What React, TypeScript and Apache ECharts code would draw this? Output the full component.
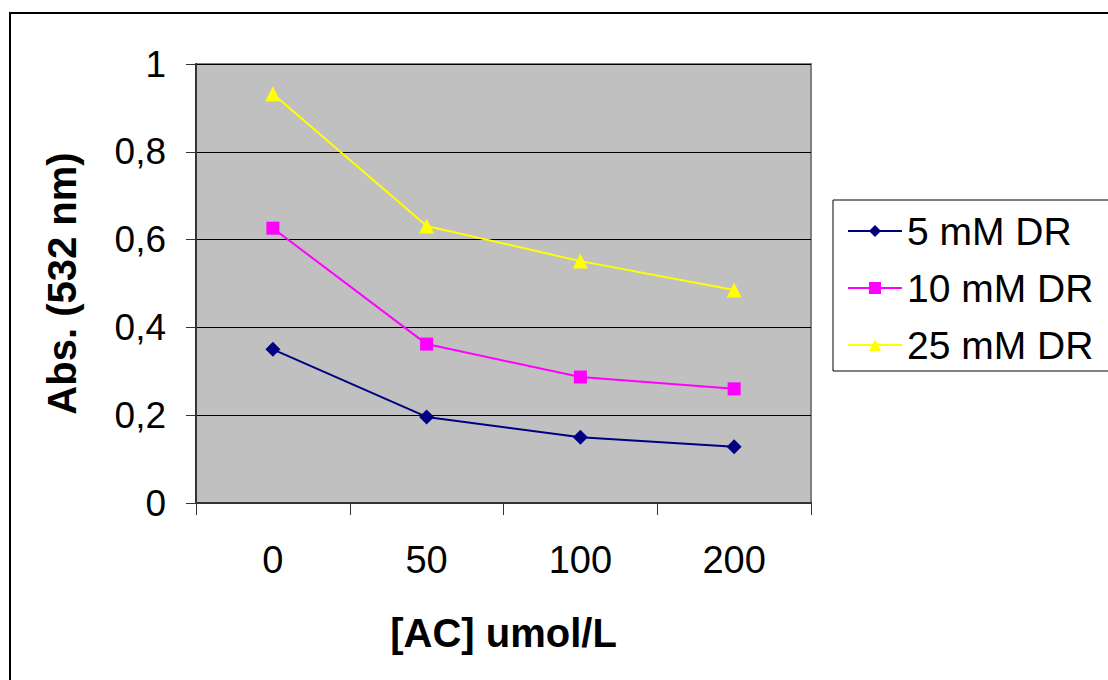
import React, { useEffect, useRef } from "react";
import * as echarts from "echarts";

const categories = ["0", "50", "100", "200"];
const seriesNames = ["5 mM DR", "10 mM DR", "25 mM DR"];
const dr5 = [0.35, 0.196, 0.15, 0.128];
const dr10 = [0.626, 0.362, 0.287, 0.26];
const dr25 = [0.932, 0.631, 0.551, 0.485];
const xTitle = "[AC] umol/L";
const yTitle = "Abs. (532 nm)";

export default function App() {
  const ref = useRef<HTMLDivElement>(null);
  useEffect(() => {
    document.body.style.margin = "0";
    const chart = echarts.init(ref.current!, null, { renderer: "svg" });
    const font = "Arial, 'Liberation Sans', Helvetica, sans-serif";
    const mk = (name: string, data: number[], color: string, symbol: string, size: number) => ({
      name,
      type: "line",
      data,
      symbol,
      symbolSize: size,
      showSymbol: true,
      lineStyle: { color, width: 2 },
      itemStyle: { color, borderWidth: 0 },
      z: 5,
    });
    chart.setOption({
      animation: false,
      backgroundColor: "#ffffff",
      textStyle: { fontFamily: font },
      graphic: [
        {
          type: "rect",
          shape: { x: 10, y: 13, width: 1200, height: 800 },
          style: { fill: "none", stroke: "#000", lineWidth: 2 },
          silent: true,
          z: -1,
        },
      ],
      grid: {
        left: 196,
        top: 64,
        right: 297,
        bottom: 177,
        show: true,
        backgroundColor: "#c0c0c0",
        borderColor: "#808080",
        borderWidth: 2,
      },
      legend: {
        orient: "vertical",
        left: 833,
        top: 200,
        data: seriesNames,
        itemWidth: 54,
        itemHeight: 15,
        itemGap: 17,
        padding: [11, 20, 6, 14],
        borderColor: "#000",
        borderWidth: 1,
        backgroundColor: "#fff",
        textStyle: { fontSize: 39, color: "#000", fontFamily: font, lineHeight: 40, padding: [0, 0, 0, 0] },
      },
      xAxis: {
        type: "category",
        data: categories,
        boundaryGap: true,
        name: xTitle,
        nameLocation: "middle",
        nameGap: 110,
        nameTextStyle: { fontSize: 40, fontWeight: "bold", color: "#000", fontFamily: font },
        axisLine: { show: true, lineStyle: { color: "#333", width: 2 } },
        axisTick: { show: true, inside: false, length: 12, alignWithLabel: false, lineStyle: { color: "#333", width: 1 } },
        axisLabel: { fontSize: 38, color: "#000", margin: 38, fontFamily: font },
        splitLine: { show: false },
      },
      yAxis: {
        type: "value",
        min: 0,
        max: 1,
        interval: 0.2,
        name: yTitle,
        nameLocation: "middle",
        nameGap: 114,
        nameRotate: 90,
        nameTextStyle: { fontSize: 40, fontWeight: "bold", color: "#000", fontFamily: font },
        axisLine: { show: true, lineStyle: { color: "#333", width: 2 } },
        axisTick: { show: true, inside: false, length: 10, lineStyle: { color: "#333", width: 1 } },
        axisLabel: {
          fontSize: 37,
          color: "#000",
          margin: 30,
          fontFamily: font,
          formatter: (v: number) => (v === 0 || v === 1 ? String(v) : v.toFixed(1).replace(".", ",")),
        },
        splitLine: { show: true, lineStyle: { color: "#000", width: 1 } },
      },
      series: [
        mk(seriesNames[0], dr5, "#000080", "diamond", 15),
        mk(seriesNames[1], dr10, "#ff00ff", "rect", 13),
        mk(seriesNames[2], dr25, "#ffff00", "triangle", 15),
      ],
    });
    return () => chart.dispose();
  }, []);
  return <div ref={ref} style={{ position: "fixed", left: 0, top: 0, width: 1108, height: 680 }} />;
}
